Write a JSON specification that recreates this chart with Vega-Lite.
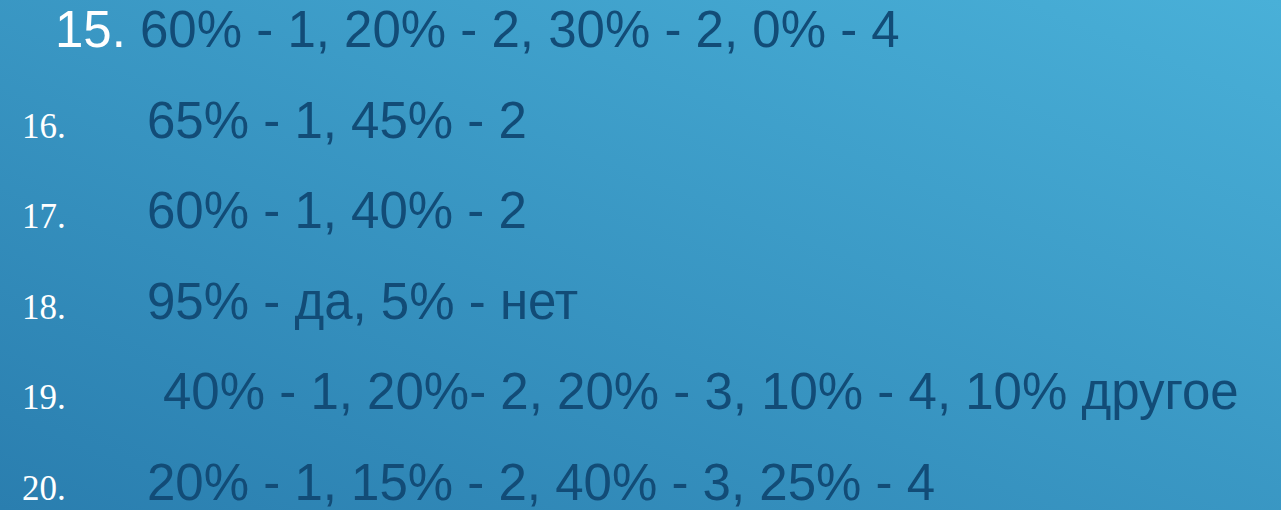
{
  "$schema": "https://vega.github.io/schema/vega-lite/v6.json",
  "width": 1281,
  "height": 510,
  "autosize": {"type": "none"},
  "padding": 0,
  "background": "#3a9acb",
  "config": {"view": {"stroke": null}},
  "data": {"values": [
    {"row": 1, "n": "15.", "t": "60% - 1, 20% - 2, 30% - 2, 0% - 4"},
    {"row": 2, "n": "16.", "t": "65% - 1, 45% - 2"},
    {"row": 3, "n": "17.", "t": "60% - 1, 40% - 2"},
    {"row": 4, "n": "18.", "t": "95% - да, 5% - нет"},
    {"row": 5, "n": "19.", "t": "40% - 1, 20%- 2, 20% - 3, 10% - 4, 10% другое"},
    {"row": 6, "n": "20.", "t": "20% - 1, 15% - 2, 40% - 3, 25% - 4"}
  ]},
  "layer": [
    {
      "data": {"values": [{}]},
      "mark": {"type": "rect", "fill": {"gradient": "linear", "x1": 1, "y1": 0, "x2": 0, "y2": 1, "stops": [{"offset": 0, "color": "#49b0d8"}, {"offset": 1, "color": "#2a7eaf"}]}},
      "encoding": {"x": {"value": 0}, "x2": {"value": "width"}, "y": {"value": 0}, "y2": {"value": "height"}}
    },
    {
      "transform": [{"filter": "datum.row == 1"}],
      "mark": {"type": "text", "font": "Liberation Sans", "fontSize": 51, "color": "#ffffff", "align": "left", "baseline": "alphabetic"},
      "encoding": {
        "x": {"datum": 55, "type": "quantitative", "scale": {"domain": [0, 1281], "nice": false, "zero": false}, "axis": null},
        "y": {"field": "row", "type": "quantitative", "scale": {"domain": [0.481, 6.11], "reverse": true, "nice": false, "zero": false}, "axis": null},
        "text": {"field": "n"}
      }
    },
    {
      "transform": [{"filter": "datum.row > 1"}],
      "mark": {"type": "text", "font": "Liberation Serif", "fontSize": 35, "color": "#ffffff", "align": "left", "baseline": "alphabetic"},
      "encoding": {
        "x": {"datum": 22, "type": "quantitative", "scale": {"domain": [0, 1281], "nice": false, "zero": false}, "axis": null},
        "y": {"field": "row", "type": "quantitative", "scale": {"domain": [0.481, 6.11], "reverse": true, "nice": false, "zero": false}, "axis": null},
        "text": {"field": "n"}
      }
    },
    {
      "transform": [{"filter": "datum.row == 1"}],
      "mark": {"type": "text", "font": "Liberation Sans", "fontSize": 51, "color": "#124c77", "align": "left", "baseline": "alphabetic"},
      "encoding": {
        "x": {"datum": 140, "type": "quantitative", "scale": {"domain": [0, 1281], "nice": false, "zero": false}, "axis": null},
        "y": {"field": "row", "type": "quantitative", "scale": {"domain": [0.481, 6.11], "reverse": true, "nice": false, "zero": false}, "axis": null},
        "text": {"field": "t"}
      }
    },
    {
      "transform": [{"filter": "datum.row > 1 && datum.row != 5"}],
      "mark": {"type": "text", "font": "Liberation Sans", "fontSize": 51, "color": "#124c77", "align": "left", "baseline": "alphabetic"},
      "encoding": {
        "x": {"datum": 147, "type": "quantitative", "scale": {"domain": [0, 1281], "nice": false, "zero": false}, "axis": null},
        "y": {"field": "row", "type": "quantitative", "scale": {"domain": [0.481, 6.11], "reverse": true, "nice": false, "zero": false}, "axis": null},
        "text": {"field": "t"}
      }
    },
    {
      "transform": [{"filter": "datum.row == 5"}],
      "mark": {"type": "text", "font": "Liberation Sans", "fontSize": 51, "color": "#124c77", "align": "left", "baseline": "alphabetic"},
      "encoding": {
        "x": {"datum": 163, "type": "quantitative", "scale": {"domain": [0, 1281], "nice": false, "zero": false}, "axis": null},
        "y": {"field": "row", "type": "quantitative", "scale": {"domain": [0.481, 6.11], "reverse": true, "nice": false, "zero": false}, "axis": null},
        "text": {"field": "t"}
      }
    }
  ]
}
